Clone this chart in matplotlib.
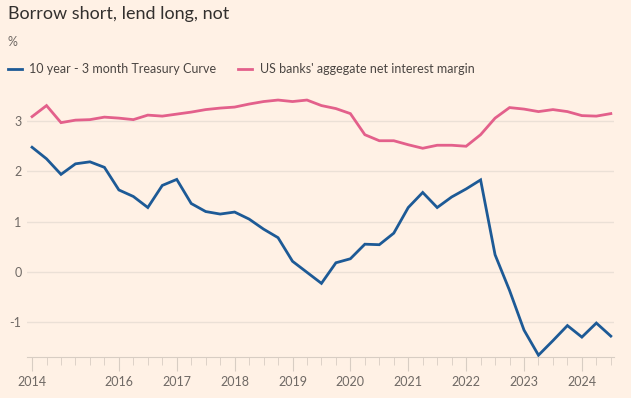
import matplotlib.pyplot as plt
import numpy as np

# quarterly data, 2014 Q3 to 2024 Q3
quarters = np.arange(41)
curve = [2.48, 2.25, 1.94, 2.15, 2.19, 2.08, 1.63, 1.50, 1.28, 1.72,
         1.84, 1.36, 1.20, 1.15, 1.19, 1.05, 0.85, 0.68, 0.21, -0.01,
         -0.23, 0.18, 0.26, 0.55, 0.54, 0.77, 1.28, 1.58, 1.28, 1.49,
         1.65, 1.83, 0.34, -0.37, -1.16, -1.66, -1.37, -1.07, -1.30, -1.02,
         -1.28]
nim = [3.09, 3.31, 2.97, 3.02, 3.03, 3.08, 3.06, 3.03, 3.12, 3.10,
       3.14, 3.18, 3.23, 3.26, 3.28, 3.34, 3.39, 3.42, 3.39, 3.42,
       3.31, 3.25, 3.15, 2.73, 2.61, 2.61, 2.53, 2.46, 2.52, 2.52,
       2.50, 2.73, 3.06, 3.27, 3.24, 3.19, 3.23, 3.19, 3.11, 3.10,
       3.15]
year_pos = [0, 6, 10, 14, 18, 22, 26, 30, 34, 38]
year_labels = ['2014', '2016', '2017', '2018', '2019', '2020', '2021', '2022', '2023', '2024']
yticks = [-1, 0, 1, 2, 3]

BG = '#fff1e5'
W, H = 631, 398
plt.rcParams['font.family'] = ['Lato', 'DejaVu Sans']

fig = plt.figure(figsize=(W / 100, H / 100), dpi=100, facecolor=BG)
ax = fig.add_axes([27 / W, (H - 356.7) / H, (614 - 27) / W, (356.7 - 90) / H])
ax.set_facecolor(BG)

ax.plot(quarters, curve, color='#1d5a96', lw=2.0, label='10 year - 3 month Treasury Curve',
        solid_joinstyle='miter', zorder=3)
ax.plot(quarters, nim, color='#e3608b', lw=2.0, label="US banks' aggegate net interest margin",
        solid_joinstyle='miter', zorder=3)

ax.set_xlim(-0.35, 40.22)
ax.set_ylim(-1.69, 3.62)
ax.set_yticks(yticks)
ax.set_yticklabels([str(v) for v in yticks])
ax.grid(axis='y', color='#ebe0d6', lw=1)
ax.set_axisbelow(True)

ax.set_xticks(year_pos)
ax.set_xticklabels(year_labels)
ax.set_xticks(quarters, minor=True)
ax.tick_params(axis='x', which='major', length=10, color='#d8cdc3', labelsize=9,
               labelcolor='#6f6965', pad=4)
ax.tick_params(axis='x', which='minor', length=6, color='#d8cdc3')
ax.tick_params(axis='y', length=0, labelsize=9, labelcolor='#6f6965', pad=4)
for s in ['top', 'right', 'left']:
    ax.spines[s].set_visible(False)
ax.spines['bottom'].set_color('#d8cdc3')

fig.text(8 / W, 1 - 14 / H, 'Borrow short, lend long, not', fontsize=13, color='#33302e',
         va='center', ha='left')
fig.text(8 / W, 1 - 42 / H, '%', fontsize=9, color='#6f6965', va='center', ha='left')

fig.legend(loc='center left', bbox_to_anchor=(8 / W, 1 - 69 / H), ncol=2, frameon=False,
           fontsize=9, handlelength=1.1, handletextpad=0.6, columnspacing=1.75,
           borderpad=0, borderaxespad=0, labelcolor='#4a4542')

fig.savefig('out.png', dpi=100, facecolor=BG)
